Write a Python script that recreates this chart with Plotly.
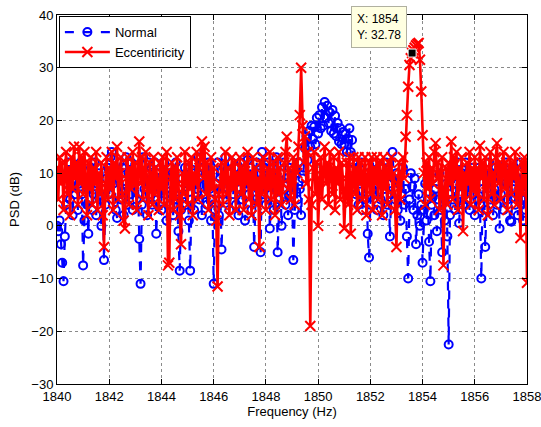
import numpy as np
import plotly.graph_objects as go

# Frequency grid (Hz), 0.05 Hz bins from 1840 to 1858
freq = np.round(np.arange(1840.0, 1858.0001, 0.05), 2)

# Normal PSD (dB), one row per Hz (20 bins each) + final bin
normal = [
    0, -1, 1, -3.5, -7, -10.5, -2, 4, 8, 12, 5, 10, 2, 9, 6, 11, 3, 8, 12, 6,
    -7.5, 1, 9, 4, -1.5, 7, 11, 3, 6, 12, 2, 8, 10, 5, 0, 7, -6.5, 4, 9, 11,
    6, 13, 14, 8, 10, 3, 1.5, 9, 12, 5, 11, 2, 7, 13, 4, 10, 6, 12, 3, 8,
    11, 5, 9, -2.5, -11, 4, 13, 7, 10, 2, 12, 6, 11, 4, 8, 12, -1.5, 5, 10, 7,
    3, 9, 12, 6, 1, 8, 11, 4, 10, 2, 7, 12, 5, -1, -8.5, 3, 9, 6, 11, 4,
    8, 1, -8.5, 5, 10, 3, 12, 7, 13, 5, 9, 2, 11, 6, 10, 4, 12, 7, 1, 5,
    -11, 3, 8, 12, 2, 9, -4.5, 6, 11, 13, 5, 10, 3, 8, 12, 6, 11, 4, 9, 2,
    7, 12, 5, 10, 1, 8, 12.5, 6, 11, 3, 9, -4, 5, 12, 7, 10, -5, 14, 6, 11,
    4, 9, 12, -0.5, 6, 11, 3, 8, 13, -5, 5, 10, 0, 7, 12, 4, 9, 2, 11, 6,
    8, -6.5, 3, 10, 5, 12, 7, 2, 9, 11, 14.7, 17, 12.5, 18, 15, 19, 16.5, 18.8, 15.5, 20.5,
    17.5, 21, 18.5, 22.5, 19, 23.5, 20.5, 22.8, 19.5, 21.5, 18, 22, 17.5, 20.9, 17, 19.5, 16, 18.5, 15.5, 17.8,
    15.5, 17.5, 14, 16.5, 18.5, 14, 16.3, 12, 9, 6, 11, 4, 8, 12, 3, 9, 5, 10, -1.5, -6,
    4, 9, 12, 6, 10, 3, 8, 11, 5, 9, 2, 7, 12, 4, 8, -2, 6, 14, 9, 5,
    10, 3, 8, 1, 6, 11, 4, 7, -2, -10, 5, 10, 7.5, 3, 9, -3.5, 2, 6, 0, 4,
    -7, 3, 8, 1, 5, -3, -10.5, 4, 9, 2, 7, -1, 5, 10, 3, -5, 6, 1, 8, -2,
    -22.5, 2, 9, 5, 11, 3, 8, 12, 0.5, 6, 10, 4, 9, 12, 5, 10, 3, 8, 11, 6,
    2, 9, 5, 11, 4, -10, 7, 10, -4, 3, 8, 12, 5, 10, 2, 7, 11, 4, 9, -0.5,
    6, 11, 3, 8, 12, 5, 10, 1, 0.8, 7, 11, 4, 9, 2, 7, 12, 5, 1, 8, 3,
    10,
]

# Eccentricity PSD (dB)
eccentricity = [
    11, 5, 13, 8, 12, 3, 10, 14, 6, 11, 2, 13, 7, 15, 9, 12, 4, 15, 8, 13,
    6, 14, 9, 2, 12, 7, 13, 4, 11, 8, 14, 3, 10, 6, 12, 2, -4, 8, 13, 5,
    11, 7, 14, 3, 12, 9, 15, 5, 10, 13, 6, 1, -0.5, 9, 13, 4, 11, 7, 14, 8,
    12, 3, 10, 16, 8, 13, 5, 11, 14, 7, 2, 12, 9, 4, 13, 6, 11, 8, 3, 12,
    7, 13, 4, 10, 14, -7.5, -7, 9, 12, 3, 11, 5, 13, 8, 2, -3.5, 10, 6, 14, 9,
    4, 12, 7, 13, 2, 10, 8, 14, 5, 11, 13, 16, 9, 15, 6, 12, 3, 10, 13, 7,
    11, 5, 1, -11.5, 6, 8, 12, 4, 10, 14, 6, 11, 2, 9, 13, 7, 12, 3, 10, 8,
    13, 6, 11, 3, 12, 8, 14, 5, 10, 2, 13, 7, 11, 4, 9, -4, 12, 6, 13, 8,
    3, 11, 7, 14, 5, 10, 12, 2, 9, 13, 6, 11, 4, 8, 12, 14, 16.9, 7, 11, 5,
    9, 13, 4, 12, 10, 15, 21, 30, 19, 12, 17, 8, 14, 5, -19, 4, 11, 14, 6, 12,
    0, 9, 13, 5, 11, 15, 8, 12, 4, 14, 10, 6, 13, 3, 11, 8, 14, 5, 12, 9,
    -0.5, 7, 12, 4, 13, -1.5, 9, 13, 6, 11, 3, 13, 8, 12, 5, 10, 13, 2, 9, 12,
    6, 13, 3, 11, 8, 13, 5, 12, 10, 2, 13, 7, 11, 4, 12, 9, 13, 6, 10, 3,
    -4, 8, 12, 5, 10, 13, 9, 16.9, 21, 26.4, 30.5, 31.8, 32.78, 33.3, 33.8, 34.2, 34.5, 34.7, 31.5, 25.5,
    17.2, 10, 4, 12, 7, 13, 5, 11, 8, 14, 15.7, 9, 12, 3, 10, 13, -7.5, 6, 11, 4,
    12, 8, 16, 5, 13, 9, 14, 3, 11, 7, 13, -1, 10, 5, 12, 8, 14, 4, 11, 7,
    13, 6, 11, 3, 15.2, 9, 12, 5, 13, 8, 2, 11, 14, 6, 10, 4, 13, 15.7, 8, 12,
    5, 11, 14, 7, 12, 3, 10, 13, 6, 12, 9, 14, 4, 11, 8, -2.3, 12, 6, 13, 12,
    -10.8,
]

series_names = ["Normal", "Eccentiricity"]
datatip_freq = 1853.6

x_ticks = [1840, 1842, 1844, 1846, 1848, 1850, 1852, 1854, 1856, 1858]
y_ticks = [-30, -20, -10, 0, 10, 20, 30, 40]

tip_idx = int(np.argmin(np.abs(freq - datatip_freq)))
tip_x = float(freq[tip_idx])
tip_y = float(eccentricity[tip_idx])

FONT = "Liberation Sans, Arial, sans-serif"

fig = go.Figure()
fig.add_trace(go.Scatter(
    x=freq, y=normal, name=series_names[0], mode="lines+markers",
    line=dict(color="rgb(0,0,255)", width=2.2, dash="dash"),
    marker=dict(symbol="circle-open", size=8, color="rgb(0,0,255)", line=dict(width=2)),
))
fig.add_trace(go.Scatter(
    x=freq, y=eccentricity, name=series_names[1], mode="lines+markers",
    line=dict(color="rgb(255,0,0)", width=2.6),
    marker=dict(symbol="x-thin-open", size=10, color="rgb(255,0,0)", line=dict(width=2, color="rgb(255,0,0)")),
))
fig.add_trace(go.Scatter(
    x=[tip_x], y=[tip_y], mode="markers", showlegend=False, hoverinfo="skip",
    marker=dict(symbol="square", size=8, color="black", line=dict(width=1, color="white")),
))

fig.add_annotation(
    x=tip_x, y=tip_y, xref="x", yref="y",
    text=f"X: {tip_x:.0f}<br>Y: {tip_y:.2f}",
    showarrow=False, xanchor="right", yanchor="bottom", xshift=-5, yshift=5,
    align="left", bgcolor="#ffffe1", bordercolor="#b0b0a0", borderwidth=1, borderpad=5,
    font=dict(family=FONT, size=12, color="black"),
)

axis_common = dict(
    showline=True, linecolor="black", linewidth=1, mirror="ticks",
    ticks="inside", ticklen=5, tickcolor="black",
    showgrid=True, gridcolor="#8a8a8a", griddash="dot", gridwidth=1,
    zeroline=False, ticklabeloverflow="allow", automargin=False,
    tickfont=dict(family=FONT, size=13, color="black"),
)

fig.update_xaxes(range=[1840, 1858], tickvals=x_ticks,
                 ticktext=[str(v) for v in x_ticks], tickmode="array",
                 title=dict(text="Frequency (Hz)", standoff=4,
                            font=dict(family=FONT, size=13, color="black")),
                 **axis_common)
fig.update_yaxes(range=[-30, 40], tickvals=y_ticks,
                 title=dict(text="PSD (dB)", standoff=8,
                            font=dict(family=FONT, size=13, color="black")),
                 **axis_common)

fig.update_layout(
    width=541, height=427,
    margin=dict(l=57, r=14, t=15, b=43),
    paper_bgcolor="white", plot_bgcolor="white",
    showlegend=True,
    legend=dict(x=0.004, y=0.997, xanchor="left", yanchor="top",
                bgcolor="white", bordercolor="black", borderwidth=1,
                itemwidth=45, tracegroupgap=0,
                font=dict(family=FONT, size=13, color="black")),
)

fig.write_html("out.html")
